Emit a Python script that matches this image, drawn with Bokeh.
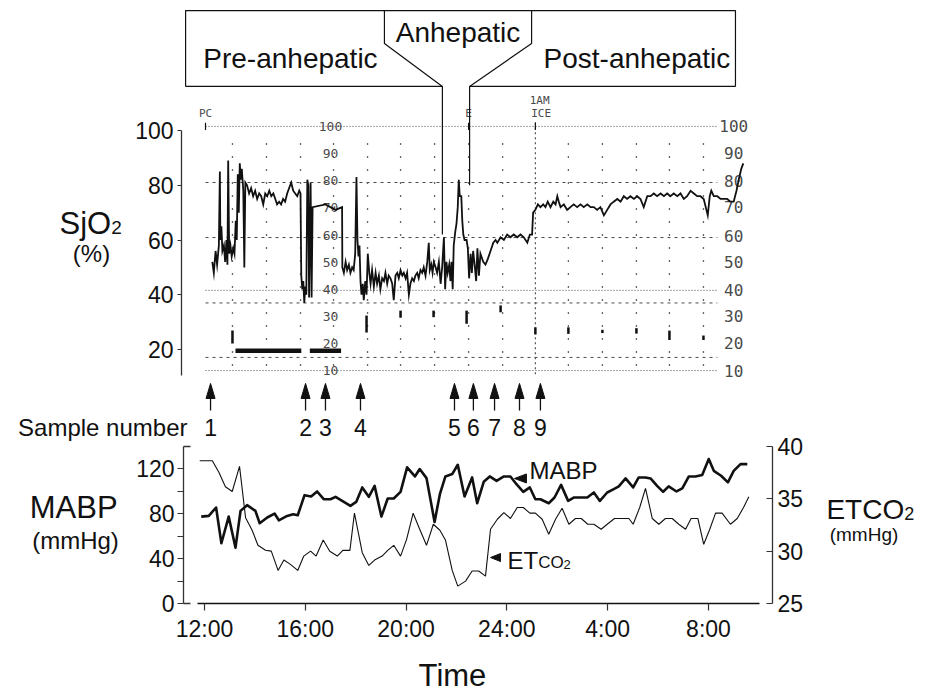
from bokeh.plotting import figure
from bokeh.models import Range1d, LinearAxis, FixedTicker, Label
from bokeh.core.properties import value
from bokeh.embed import file_html
from bokeh.resources import INLINE

FONT = "Liberation Sans"
MONO = "DejaVu Sans Mono"
INK = "#111111"
PRINT = "#4a4a4a"

# ---------------- data (time in hours; 24+ = next day) ----------------
sjo2_time = [12.31, 12.37, 12.44, 12.50, 12.57, 12.61, 12.63, 12.67, 12.71, 12.77, 12.82, 12.87, 12.91, 12.94,
             12.98, 13.03, 13.08, 13.14, 13.19, 13.24, 13.28, 13.32, 13.36, 13.40, 13.44, 13.48, 13.54, 13.58,
             13.62, 13.69, 13.77, 13.85, 13.93, 14.01, 14.09, 14.17, 14.25, 14.33, 14.41, 14.49, 14.57, 14.65,
             14.73, 14.81, 14.88, 14.96, 15.04, 15.12, 15.20, 15.28, 15.36, 15.44, 15.52, 15.60, 15.68, 15.76,
             15.81, 15.84, 15.88, 15.92, 15.96, 16.00, 16.04, 16.08, 16.12, 16.15, 16.21, 16.25, 16.29, 16.80,
             17.20, 17.46, 17.47, 17.53, 17.60, 17.66, 17.73, 17.79, 17.86, 17.92, 17.98, 18.03, 18.07, 18.11,
             18.15, 18.19, 18.23, 18.28, 18.32, 18.38, 18.43, 18.48, 18.54, 18.59, 18.65, 18.72, 18.79, 18.85,
             18.92, 18.98, 19.05, 19.12, 19.18, 19.25, 19.31, 19.38, 19.45, 19.51, 19.58, 19.65, 19.71, 19.78,
             19.85, 19.91, 19.98, 20.04, 20.11, 20.17, 20.24, 20.31, 20.37, 20.44, 20.50, 20.57, 20.64, 20.70,
             20.77, 20.84, 20.90, 20.94, 21.00, 21.05, 21.10, 21.17, 21.23, 21.30, 21.37, 21.43, 21.50, 21.55,
             21.60, 21.65, 21.71, 21.76, 21.80, 21.85, 21.89, 21.95, 22.00, 22.05, 22.09, 22.13, 22.19, 22.23,
             22.27, 22.32, 22.40, 22.45, 22.50, 22.56, 22.61, 22.66, 22.73, 22.78, 22.83, 22.89, 22.95, 23.06,
             23.15, 23.24, 23.35, 23.46, 23.55, 23.62, 23.75, 23.88, 24.01, 24.14, 24.27, 24.41, 24.54, 24.67,
             24.81, 24.91, 25.00, 25.04, 25.13, 25.23, 25.33, 25.44, 25.53, 25.62, 25.73, 25.84, 25.93, 26.00,
             26.06, 26.13, 26.26, 26.39, 26.52, 26.65, 26.79, 26.92, 27.05, 27.19, 27.32, 27.45, 27.58, 27.71,
             27.85, 27.98, 28.11, 28.24, 28.38, 28.51, 28.64, 28.77, 28.90, 29.04, 29.17, 29.30, 29.43, 29.57,
             29.70, 29.83, 29.96, 30.10, 30.23, 30.36, 30.49, 30.62, 30.76, 30.89, 31.02, 31.15, 31.29, 31.42,
             31.55, 31.68, 31.81, 31.89, 31.97, 32.05, 32.11, 32.21, 32.35, 32.48, 32.61, 32.74, 32.87, 33.00,
             33.11, 33.20, 33.30, 33.38]
sjo2_value = [52, 48, 56, 51, 58, 85, 60, 65, 56, 58, 52, 60, 51, 89,
              55, 58, 54, 57, 55, 67, 60, 84, 70, 88, 82, 86, 78, 50,
              81, 80, 77, 79, 76, 78, 75, 77, 76, 73, 77, 76, 78, 76,
              77, 75, 73, 74, 73, 75, 74, 77, 79, 81, 78, 77, 76, 78,
              77, 47, 42, 45, 37, 43, 40, 82, 80, 39, 81, 39, 72, 73,
              71, 72, 50, 48, 52, 49, 51, 48, 50, 49, 55, 83, 60, 54,
              58, 45, 40, 44, 38, 45, 40, 55, 48, 44, 49, 43, 48, 44,
              47, 42, 46, 45, 48, 44, 47, 46, 44, 38, 47, 48, 46, 49,
              47, 48, 46, 48, 40, 44, 46, 45, 47, 48, 46, 49, 48, 50,
              47, 52, 59, 49, 51, 48, 52, 50, 48, 52, 44, 50, 61, 42,
              52, 48, 51, 45, 52, 42, 58, 63, 66, 72, 82, 76, 76, 67,
              62, 60, 60, 57, 46, 55, 48, 56, 50, 45, 57, 47, 55, 52,
              51, 53, 56, 59, 60, 59, 61, 60, 62, 61, 62, 61, 62, 61,
              59, 62, 62, 70, 71, 73, 72, 73, 72, 74, 72, 74, 73, 76,
              74, 72, 73, 71, 72, 73, 72, 73, 72, 73, 72, 72, 71, 72,
              69, 71, 73, 74, 75, 74, 76, 75, 76, 75, 76, 75, 72, 76,
              76, 77, 76, 77, 76, 77, 76, 77, 76, 77, 75, 76, 78, 77,
              76, 76, 75, 72, 69, 76, 78, 76, 76, 75, 75, 75, 74, 74,
              78, 82, 86, 88]

mabp_time = [11.87, 12.17, 12.46, 12.67, 12.96, 13.23, 13.43, 13.69, 14.02, 14.19, 14.49, 14.78, 14.95, 15.28,
             15.52, 15.70, 15.97, 16.23, 16.47, 16.73, 17.00, 17.20, 17.53, 17.79, 18.02, 18.26, 18.52, 18.75,
             19.02, 19.27, 19.51, 19.78, 20.04, 20.35, 20.54, 20.81, 21.13, 21.34, 21.56, 21.83, 22.05, 22.32,
             22.62, 22.82, 23.08, 23.32, 23.59, 23.88, 24.14, 24.38, 24.65, 24.91, 25.13, 25.33, 25.66, 25.89,
             26.15, 26.43, 26.65, 26.92, 27.19, 27.45, 27.69, 27.98, 28.24, 28.44, 28.71, 29.01, 29.23, 29.50,
             29.70, 29.96, 30.20, 30.42, 30.73, 30.96, 31.22, 31.48, 31.75, 32.01, 32.21, 32.50, 32.77, 33.00,
             33.27, 33.54]
mabp_value = [77.5, 78.1, 85.6, 53.7, 77.5, 49.8, 82.6, 87.7, 82.6, 71.6, 76.7, 80.2, 74.2, 78.1,
              79.6, 78.7, 96.6, 95.4, 99.9, 93.0, 93.0, 95.1, 90.6, 87.0, 90.6, 103.5, 95.1, 104.9,
              77.5, 93.6, 93.6, 99.6, 121.4, 113.3, 119.9, 111.8, 72.7, 97.5, 113.3, 115.4, 123.7, 95.4,
              112.4, 89.4, 108.5, 113.3, 109.4, 113.3, 113.3, 106.4, 99.6, 103.5, 93.0, 93.0, 89.4, 94.5,
              105.8, 91.5, 94.5, 94.5, 94.5, 99.0, 91.5, 99.0, 102.0, 104.4, 111.5, 103.5, 112.4, 112.4,
              111.5, 104.9, 99.6, 104.4, 99.9, 102.6, 113.3, 113.3, 114.5, 128.8, 118.3, 113.9, 108.0, 118.3,
              124.3, 124.3]

etco2_time = [11.81, 12.31, 12.57, 12.83, 13.10, 13.39, 13.63, 13.89, 14.12, 14.42, 14.65, 14.92, 15.15, 15.41,
              15.70, 15.94, 16.21, 16.43, 16.71, 16.97, 17.27, 17.49, 17.77, 17.95, 18.26, 18.52, 18.75, 19.05,
              19.27, 19.51, 19.78, 20.02, 20.28, 20.54, 20.81, 21.08, 21.34, 21.56, 21.83, 22.05, 22.36, 22.62,
              22.88, 23.15, 23.35, 23.62, 23.88, 24.14, 24.41, 24.65, 24.91, 25.13, 25.40, 25.66, 25.93, 26.19,
              26.46, 26.72, 26.95, 27.21, 27.45, 27.74, 27.98, 28.27, 28.54, 28.84, 29.01, 29.27, 29.50, 29.77,
              30.03, 30.29, 30.56, 30.82, 31.09, 31.31, 31.58, 31.81, 32.05, 32.28, 32.54, 32.87, 33.14, 33.39,
              33.60]
etco2_value = [38.64, 38.64, 37.53, 36.15, 35.70, 38.10, 33.20, 32.00, 30.56, 30.08, 30.00, 28.16, 29.15, 28.74,
               28.16, 29.53, 30.00, 29.53, 31.07, 30.00, 29.53, 30.08, 30.08, 33.63, 29.86, 28.64, 29.15, 29.53,
               30.08, 30.56, 29.53, 31.13, 33.63, 32.09, 30.56, 32.57, 32.00, 31.07, 28.16, 26.66, 27.14, 28.10,
               28.10, 27.62, 32.09, 33.05, 33.69, 33.12, 34.17, 34.17, 33.63, 33.63, 33.05, 31.61, 33.05, 34.10,
               32.57, 33.12, 33.12, 32.57, 32.57, 32.09, 32.57, 33.12, 33.12, 33.12, 32.57, 34.17, 36.00, 33.12,
               32.57, 33.12, 33.12, 32.57, 32.09, 33.12, 33.12, 30.66, 32.09, 33.63, 33.63, 32.57, 33.12, 34.17,
               35.19]

sample_time = [12.24, 16.01, 16.80, 18.19, 21.92, 22.67, 23.51, 24.50, 25.33]
sample_label = ["1", "2", "3", "4", "5", "6", "7", "8", "9"]

phase_names = ["Pre-anhepatic", "Anhepatic", "Post-anhepatic"]
anhepatic_start = 21.44
anhepatic_end = 22.52

time_ticks = [12, 16, 20, 24, 28, 32]
time_tick_labels = ["12:00", "16:00", "20:00", "24:00", "4:00", "8:00"]
sjo2_ticks = [20, 40, 60, 80, 100]
mabp_ticks = [0, 20, 40, 60, 80, 100, 120]
mabp_tick_labels = ["0", "", "40", "", "80", "", "120"]
etco2_ticks = [25, 30, 35, 40]

# monitor strip (printout) scale and marks
print_scale_labels = ["100", "90", "80", "70", "60", "50", "40", "30", "20", "10"]
print_scale_levels = [101.5, 91.6, 81.7, 71.9, 61.6, 51.8, 41.9, 32.1, 22.2, 12.3]
print_hgrid_fine = [101.5, 41.6, 12.3]
print_hgrid_dash = [81.0, 60.9, 37.0, 17.1]
print_vgrid_time = [13.11, 14.46, 15.81, 17.12, 18.47, 19.78, 21.13, 22.48, 23.83, 26.44, 27.79, 29.14,
                    30.45, 31.80]
print_event_time = [13.11, 18.43, 19.78, 21.09, 22.40, 23.75, 25.13, 26.44, 27.79, 29.14, 30.45, 31.80]
print_event_low = [22.2, 26.2, 31.6, 31.8, 29.4, 33.6, 25.5, 25.7, 26.0, 25.8, 23.5, 23.5]
print_event_high = [26.9, 32.4, 34.2, 34.2, 34.2, 36.1, 28.1, 28.1, 27.2, 27.8, 26.9, 25.1]
print_bar_start = [13.23, 16.18]
print_bar_end = [15.84, 17.42]
print_bar_level = 19.5
print_marker_text = ["PC", "E", "1AM", "ICE"]
print_marker_time = [12.04, 22.48, 25.30, 25.36]
print_marker_level = [106.2, 106.2, 111.0, 106.2]
print_ice_time = 25.13

# ---------------- geometry ----------------
W, H = 925, 694
PXH = 25.2            # px per hour
MABP_PXV = 1.1214     # px per mmHg (MABP scale)


def lab(p, x, y, text, size, align="left", baseline="middle", font=FONT, color=INK, rng="default"):
    p.add_layout(Label(x=x, y=y, text=text, text_font=font, text_font_size=f"{size}px",
                       text_align=align, text_baseline=baseline, text_color=color, y_range_name=rng))


def style_axis(ax, tick_out, tick_in, standoff):
    ax.minor_tick_line_color = None
    ax.major_tick_out = tick_out
    ax.major_tick_in = tick_in
    ax.major_label_standoff = standoff
    ax.major_label_text_font = FONT
    ax.major_label_text_font_size = "23px"
    ax.major_label_text_color = INK
    ax.axis_line_color = "#333333"
    ax.axis_line_width = 1.3
    ax.major_tick_line_color = "#333333"
    ax.major_tick_line_width = 1.2


p = figure(width=W, height=H, title=None, output_backend="svg", toolbar_location=None,
           x_range=Range1d(3.9048, 40.611), y_range=Range1d(-106.03, 147.49),
           x_axis_type=None, y_axis_type=None,
           min_border_left=0, min_border_right=0, min_border_top=0, min_border_bottom=0)
p.extra_y_ranges = {"mabp": Range1d(-81.15, 537.72), "etco2": Range1d(16.306, 82.61)}
p.grid.visible = False
p.outline_line_color = None

# ---- axes (fixed at their data locations) ----
ax_sjo2 = LinearAxis(fixed_location=11.0873, bounds=(10.5, 100), ticker=FixedTicker(ticks=sjo2_ticks))
style_axis(ax_sjo2, 4, 0, 4)
p.add_layout(ax_sjo2, "left")

ax_mabp = LinearAxis(y_range_name="mabp", fixed_location=11.1667, bounds=(0, 140),
                     ticker=FixedTicker(ticks=mabp_ticks))
ax_mabp.major_label_overrides = {t: s for t, s in zip(mabp_ticks, mabp_tick_labels)}
style_axis(ax_mabp, 6, 0, 3)
p.add_layout(ax_mabp, "left")

ax_et = LinearAxis(y_range_name="etco2", fixed_location=34.54, bounds=(25, 40),
                   ticker=FixedTicker(ticks=etco2_ticks))
style_axis(ax_et, 0, 6, 5)
p.add_layout(ax_et, "right")

ax_time = LinearAxis(y_range_name="mabp", fixed_location=0, bounds=(11.72, 34.02),
                     ticker=FixedTicker(ticks=time_ticks))
ax_time.major_label_overrides = {t: s for t, s in zip(time_ticks, time_tick_labels)}
style_axis(ax_time, 7, 0, 6)
ax_time.axis_line_color = INK
p.add_layout(ax_time, "below")

# ---- printout grid ----
x0, x1 = 12.04, 32.35
p.segment(x0=[x0] * len(print_hgrid_fine), x1=[x1] * len(print_hgrid_fine), y0=print_hgrid_fine,
          y1=print_hgrid_fine, line_color=PRINT, line_width=1, line_dash="1 2")
p.segment(x0=[x0] * len(print_hgrid_dash), x1=[x1] * len(print_hgrid_dash), y0=print_hgrid_dash,
          y1=print_hgrid_dash, line_color=PRINT, line_width=1, line_dash="3 4")
p.segment(x0=print_vgrid_time, x1=print_vgrid_time, y0=[14] * len(print_vgrid_time),
          y1=[98] * len(print_vgrid_time), line_color="#666666", line_width=1.3, line_dash="2 11")
p.segment(x0=[print_ice_time], x1=[print_ice_time], y0=[11], y1=[104], line_color="#555555",
          line_width=1.2, line_dash="2 3")
p.segment(x0=print_marker_time[:2] + [print_ice_time], x1=print_marker_time[:2] + [print_ice_time],
          y0=[100.2] * 3, y1=[102.8] * 3, line_color=INK, line_width=1.2)
p.text(x=[17.0] * len(print_scale_labels), y=print_scale_levels, text=print_scale_labels,
       text_font=value(MONO), text_font_size=value("13px"), text_color=PRINT,
       text_align="center", text_baseline="middle")
p.text(x=[33.0] * len(print_scale_labels), y=print_scale_levels, text=print_scale_labels,
       text_font=value(MONO), text_font_size=value("16px"), text_color=PRINT,
       text_align="center", text_baseline="middle")
p.text(x=print_marker_time, y=print_marker_level, text=print_marker_text,
       text_font=value(MONO), text_font_size=value("11px"), text_color=PRINT,
       text_align="center", text_baseline="middle")
p.segment(x0=print_event_time, x1=print_event_time, y0=print_event_low, y1=print_event_high,
          line_color=INK, line_width=2.5)
p.segment(x0=print_bar_start, x1=print_bar_end, y0=[print_bar_level] * 2, y1=[print_bar_level] * 2,
          line_color=INK, line_width=4.5)

# ---- SjO2 trace ----
p.line(sjo2_time, sjo2_value, line_color=INK, line_width=1.8, line_join="miter")

# ---- phase boxes ----
BOX_L, BOX_R, BOX_T, BOX_B, NOTCH = 11.25, 33.07, 143.8, 116.1, 131.8
ANH_L, ANH_R = 19.14, 24.98
p.multi_line(
    xs=[[BOX_L, BOX_L, BOX_R, BOX_R], [BOX_L, anhepatic_start], [anhepatic_end, BOX_R],
        [ANH_L, ANH_L, anhepatic_start, anhepatic_start], [ANH_R, ANH_R, anhepatic_end, anhepatic_end]],
    ys=[[BOX_B, BOX_T, BOX_T, BOX_B], [BOX_B, BOX_B], [BOX_B, BOX_B],
        [BOX_T, NOTCH, BOX_B, 62], [BOX_T, NOTCH, BOX_B, 80]],
    line_color=INK, line_width=1.2)
lab(p, 15.41, 126.23, phase_names[0], 28, align="center")
lab(p, 22.06, 135.73, phase_names[1], 28, align="center")
lab(p, 29.16, 126.23, phase_names[2], 28, align="center")

# ---- sample arrows ----
tip_v, base_v, tail_v = 7.6, 2.1, -2.3
hw = 4.5 / PXH
p.patches(xs=[[t, t - hw, t + hw] for t in sample_time],
          ys=[[tip_v, base_v, base_v] for _ in sample_time], fill_color=INK, line_color=INK)
p.segment(x0=sample_time, x1=sample_time, y0=[base_v] * len(sample_time), y1=[tail_v] * len(sample_time),
          line_color=INK, line_width=1.3)
p.text(x=sample_time, y=[-8.5] * len(sample_time), text=sample_label, text_font=value(FONT),
       text_font_size=value("23px"), text_color=INK, text_align="center", text_baseline="middle")
lab(p, 11.325, -8.5, "Sample number", 24, align="right")

# ---- SjO2 title ----
lab(p, 6.246, 65.95, "SjO", 31)
lab(p, 8.30, 64.42, "2", 19)
lab(p, 7.516, 55.07, "(%)", 24, align="center")

# ---- MABP / ETCO2 ----
stub = 7 / PXH
p.segment(x0=[11.1667, 11.1667], x1=[11.1667 + stub] * 2, y0=[140, 0], y1=[140, 0],
          y_range_name="mabp", line_color="#333333", line_width=1.3)
p.line(etco2_time, etco2_value, y_range_name="etco2", line_color=INK, line_width=1.1)
p.line(mabp_time, mabp_value, y_range_name="mabp", line_color=INK, line_width=2.6, line_join="round")

tri_tip_t = [24.30, 23.35]
tri_tip_v = [111.5, 41.0]
tri_len = [12 / PXH, 10 / PXH]
tri_half = [4.5 / MABP_PXV, 4.0 / MABP_PXV]
p.patches(xs=[[t, t + l, t + l] for t, l in zip(tri_tip_t, tri_len)],
          ys=[[v, v + h, v - h] for v, h in zip(tri_tip_v, tri_half)],
          y_range_name="mabp", fill_color=INK, line_color=INK)
lab(p, 24.90, 118.51, "MABP", 24, rng="mabp")
lab(p, 24.02, 38.70, "ET", 24, rng="mabp")
lab(p, 25.24, 36.56, "CO", 17, rng="mabp")
lab(p, 26.25, 35.22, "2", 13, rng="mabp")

lab(p, 6.81, 86.05, "MABP", 31, align="center", rng="mabp")
lab(p, 6.88, 56.18, "(mmHg)", 24, align="center", rng="mabp")
lab(p, 36.68, 83.38, "ETCO", 28, rng="mabp")
lab(p, 39.77, 80.26, "2", 18, rng="mabp")
lab(p, 38.17, 61.53, "(mmHg)", 19, align="center", rng="mabp")
lab(p, 21.84, -64.2, "Time", 31, align="center", rng="mabp")

open("out.html", "w").write(file_html(p, INLINE))
